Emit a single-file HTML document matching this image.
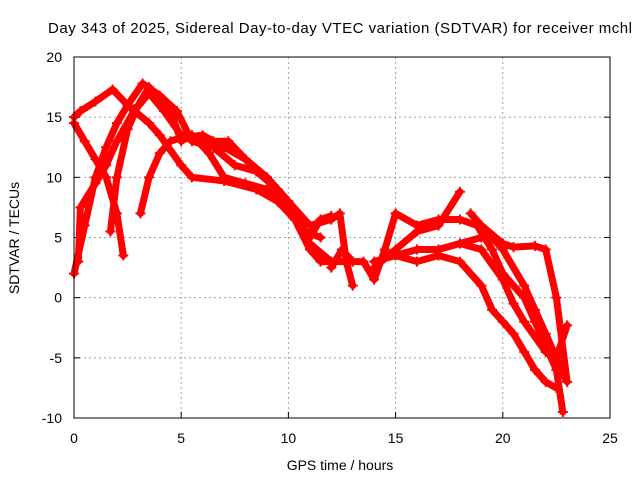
<!DOCTYPE html>
<html><head><meta charset="utf-8"><style>
body{margin:0;background:#fff}
svg{display:block;font-family:"Liberation Sans",sans-serif}
</style></head><body>
<svg id="chart" width="640" height="480">
<text x="340" y="33" font-size="15" text-anchor="middle" textLength="584">Day 343 of 2025, Sidereal Day-to-day VTEC variation (SDTVAR) for receiver mchl</text>
<text x="340" y="470" font-size="14" text-anchor="middle">GPS time / hours</text>
<text x="19" y="238" font-size="14" text-anchor="middle" transform="rotate(-90 19 238)">SDTVAR / TECUs</text>
<g id="grid"></g><g id="axes"></g><g id="marks"></g>
<rect x="74" y="57" width="536" height="361" fill="none" stroke="#000" stroke-width="1"/>
</svg>
<script>
const xTicks=[0,5,10,15,20,25];
const yTicks=[-10,-5,0,5,10,15,20];
const trackA=[[0,14.5],[0.5,13],[1,11.5],[1.5,10],[2,7],[2.3,3.5]];
const trackB=[[0,15],[0.3,15.5],[1,16.3],[1.8,17.3],[2.5,16],[3.5,14.5],[4,13.5],[5,11],[5.5,10],[7,9.7],[8.5,9],[9.5,8],[10.3,6.5],[11,4],[11.5,3],[13,3]];
const trackC=[[0,2],[0.5,6],[1,10],[1.5,12.5],[2,14.5],[2.5,16],[3.2,17.8],[4,16.8],[4.8,15.5],[5.5,13],[6.5,12.5],[7.5,11],[8.5,10.5],[9.5,9],[10.5,6],[11,5],[11.5,6.5],[12,6.8]];
const trackD=[[0.2,3],[0.3,7.5],[1,9.5],[1.5,11],[2,13],[2.8,15.5],[3.5,17],[4.2,15.5],[5,13.5],[6,13],[7,12.5],[8,11.5],[9,10],[10,8],[10.5,6],[11,4.5],[12,3]];
const trackE=[[1.7,5.5],[2,10],[2.5,14],[3,16],[3.5,17.5],[4,16.5],[4.5,15.5],[5,13],[5.5,13.5],[6.3,12],[7,10],[8,9.5],[9,9],[10,7.5],[10.8,5.5],[11.5,5]];
const trackF=[[3.1,7],[3.5,10],[4,12],[4.5,13],[5,13.3],[6,13.5],[6.5,13],[7.2,13],[8,11.5],[9,10],[10,8],[11,6],[12,6.5],[12.4,7],[12.7,3],[13,1]];
const trackG=[[12,2.5],[12.5,4],[13,3],[13.5,3],[14,1.5],[14.5,4],[15,7],[16,6],[17,6.5],[18,6.5],[18.8,6],[19.5,4],[20,2],[21,0],[21.5,-2],[22,-4],[22.5,-6],[22.8,-9.5]];
const trackH=[[14,2.5],[15,4],[16,5.5],[17,6],[18,8.8]];
const trackI=[[14,3],[15,3.5],[16,4],[17,4],[18,4.5],[19,5],[19.5,5],[20,4],[21,1],[21.5,-1],[22,-3],[22.5,-5],[22.8,-6.5]];
const trackJ=[[15,3.5],[16,3],[17,3.5],[18,3],[19,1],[19.5,-1],[20,-2],[20.5,-3],[21,-4.5],[21.5,-6],[22,-7],[22.5,-7.5]];
const trackK=[[18.5,7],[19,6],[20,4.5],[20.5,4.2],[21.5,4.3],[22,4],[22.5,0],[23,-7]];
const trackL=[[18,4.5],[19,4],[20,1.5],[20.5,-0.5],[21,-2],[22,-4.5],[22.5,-5],[23,-2.3]];
const tracks=[trackA,trackB,trackC,trackD,trackE,trackF,trackG,trackH,trackI,trackJ,trackK,trackL];
const NS="http://www.w3.org/2000/svg";
const X=v=>74+v*(536/25), Y=v=>418-(v+10)*(361/30);
const grid=document.getElementById('grid'),axes=document.getElementById('axes'),marks=document.getElementById('marks');
function mk(tag,attrs,parent){const e=document.createElementNS(NS,tag);for(const k in attrs)e.setAttribute(k,attrs[k]);parent.appendChild(e);return e;}
xTicks.forEach(t=>{
 if(t>0&&t<25){const g=mk('line',{x1:X(t),x2:X(t),y1:57,y2:418,stroke:'#a0a0a0','stroke-dasharray':'2,3'},grid);
 
 }
 const tk=mk('text',{x:X(t),y:443,'font-size':14,'text-anchor':'middle'},axes);tk.textContent=t;
 
 
 mk('line',{x1:X(t),x2:X(t),y1:418,y2:412,stroke:'#000'},axes);
});
yTicks.forEach(t=>{
 if(t>-10&&t<20){const g=mk('line',{x1:74,x2:610,y1:Y(t),y2:Y(t),stroke:'#a0a0a0','stroke-dasharray':'2,3'},grid);
 
 }
 const tk=mk('text',{x:62,y:Y(t)+5,'font-size':14,'text-anchor':'end'},axes);tk.textContent=t;
 
 
 mk('line',{x1:74,x2:80,y1:Y(t),y2:Y(t),stroke:'#000'},axes);
 mk('line',{x1:610,x2:604,y1:Y(t),y2:Y(t),stroke:'#000'},axes);
});
tracks.forEach((tr,i)=>{
 const p=mk('polyline',{points:tr.map(d=>X(d[0])+','+Y(d[1])).join(' '),fill:'none',stroke:'#ff0000','stroke-width':7,'stroke-linejoin':'round','stroke-linecap':'round'},marks);
 
 
 tr.forEach(d=>{
  const m=mk('path',{d:`M${X(d[0])-5},${Y(d[1])}h10M${X(d[0])},${Y(d[1])-5}v10`,stroke:'#ff0000','stroke-width':2},marks);
  
  
 });
});
</script>
</body></html>
